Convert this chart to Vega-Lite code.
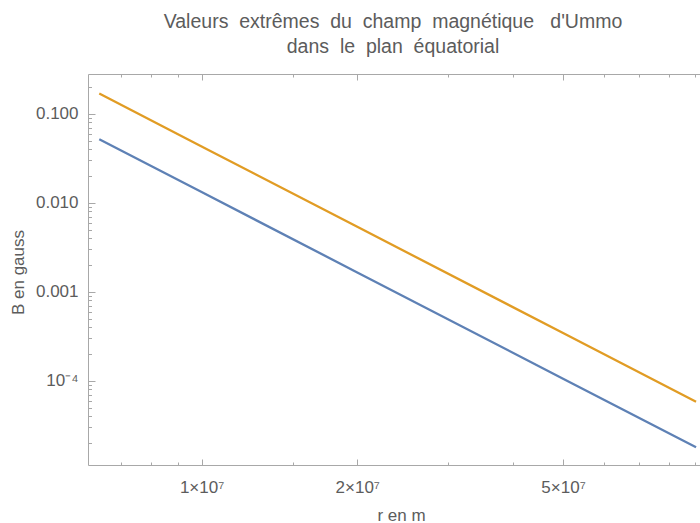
{
  "$schema": "https://vega.github.io/schema/vega-lite/v6.json",
  "width": 612,
  "height": 391,
  "autosize": "none",
  "padding": {"left": 88, "top": 74, "right": 0, "bottom": 58},
  "background": "white",
  "config": {
    "view": {"stroke": null},
    "axis": {
      "grid": false,
      "domainColor": "#a8a8a8",
      "tickColor": "#a8a8a8",
      "labelColor": "#5c5c5c",
      "titleColor": "#5c5c5c",
      "labelFont": "Liberation Sans",
      "titleFont": "Liberation Sans",
      "labelFontSize": 17,
      "titleFontSize": 17,
      "titleFontWeight": "normal",
      "labelFlush": false,
      "labelOverlap": false
    }
  },
  "title": {
    "text": ["Valeurs\u00a0\u00a0extrêmes\u00a0\u00a0du\u00a0\u00a0champ\u00a0\u00a0magnétique\u00a0\u00a0\u00a0d'Ummo\u00a0\u00a0\u00a0\u00a0\u00a0\u00a0", "dans\u00a0\u00a0le\u00a0\u00a0plan\u00a0\u00a0équatorial"],
    "font": "Liberation Sans",
    "fontSize": 19.5,
    "fontWeight": "normal",
    "color": "#5c5c5c",
    "anchor": "middle",
    "lineHeight": 25,
    "offset": 16,
    "dx": -1
  },
  "data": {
    "values": [
      {"r": 6340000, "B": 0.0518, "s": "min"},
      {"r": 10000000, "B": 0.0132, "s": "min"},
      {"r": 20000000, "B": 0.00165, "s": "min"},
      {"r": 50000000, "B": 0.0001056, "s": "min"},
      {"r": 90400000, "B": 0.00001787, "s": "min"},
      {"r": 6340000, "B": 0.1688, "s": "max"},
      {"r": 10000000, "B": 0.043, "s": "max"},
      {"r": 20000000, "B": 0.005375, "s": "max"},
      {"r": 50000000, "B": 0.000344, "s": "max"},
      {"r": 90400000, "B": 0.0000582, "s": "max"}
    ]
  },
  "layer": [
    {
      "mark": {"type": "line", "strokeWidth": 2.3, "clip": true},
      "encoding": {
        "x": {"field": "r", "type": "quantitative",
          "scale": {"type": "log", "domain": [6030000, 92000000], "nice": false},
          "axis": {"orient": "bottom", "values": [10000000, 20000000, 50000000], "ticks": false, "tickSize": 0,
            "labelBaseline": "alphabetic", "labelPadding": 27,
            "labelExpr": "format(datum.value/10000000, 'd') + '×10⁷'",
            "title": "r\u00a0en\u00a0m", "titleX": 313, "titleY": 55, "titleBaseline": "alphabetic", "titleAnchor": null}},
        "y": {"field": "B", "type": "quantitative",
          "scale": {"type": "log", "domain": [0.00001132, 0.28], "nice": false},
          "axis": {"orient": "left", "values": [0.1, 0.01, 0.001, 0.0001], "ticks": false, "tickSize": 0,
            "labelPadding": 10,
            "labelExpr": "datum.value >= 0.001 ? format(datum.value, '.3f') : '10⁻⁴'",
            "title": "B en gauss", "titleX": -70, "titleY": 198, "titleAngle": -90, "titleBaseline": "middle", "titleAlign": "center"}},
        "color": {"field": "s", "type": "nominal",
          "scale": {"domain": ["min", "max"], "range": ["#5E81B5", "#E19C24"]}, "legend": null}
      }
    },
    {
      "mark": {"type": "point", "opacity": 0},
      "encoding": {
        "x": {"field": "r", "type": "quantitative", "scale": {"type": "log", "domain": [6030000, 92000000], "nice": false},
          "axis": {"orient": "bottom", "values": [10000000, 20000000, 50000000], "tickSize": -6, "labels": false, "domain": false, "title": null}},
        "y": {"field": "B", "type": "quantitative", "scale": {"type": "log", "domain": [0.00001132, 0.28], "nice": false},
          "axis": {"orient": "left", "values": [0.1, 0.01, 0.001, 0.0001], "tickSize": -7, "labels": false, "domain": false, "title": null}}
      }
    },
    {
      "mark": {"type": "point", "opacity": 0},
      "encoding": {
        "x": {"field": "r", "type": "quantitative", "scale": {"type": "log", "domain": [6030000, 92000000], "nice": false},
          "axis": {"orient": "bottom", "values": [7000000, 8000000, 9000000, 15000000, 30000000, 40000000, 60000000, 70000000, 80000000, 90000000], "tickSize": -3, "labels": false, "domain": false, "title": null}},
        "y": {"field": "B", "type": "quantitative", "scale": {"type": "log", "domain": [0.00001132, 0.28], "nice": false},
          "axis": {"orient": "left", "values": [0.2, 0.09, 0.08, 0.07, 0.06, 0.05, 0.04, 0.03, 0.02, 0.009, 0.008, 0.007, 0.006, 0.005, 0.004, 0.003, 0.002, 0.0009, 0.0008, 0.0007, 0.0006, 0.0005, 0.0004, 0.0003, 0.0002, 0.00009, 0.00008, 0.00007, 0.00006, 0.00005, 0.00004, 0.00003, 0.00002], "tickSize": -3.5, "labels": false, "domain": false, "title": null}}
      }
    },
    {
      "mark": {"type": "point", "opacity": 0},
      "encoding": {
        "x": {"field": "r", "type": "quantitative", "scale": {"type": "log", "domain": [6030000, 92000000], "nice": false},
          "axis": {"orient": "top", "values": [10000000, 20000000, 50000000], "tickSize": -6, "labels": false, "domain": true, "title": null}},
        "y": {"field": "B", "type": "quantitative", "scale": {"type": "log", "domain": [0.00001132, 0.28], "nice": false}, "axis": null}
      }
    },
    {
      "mark": {"type": "point", "opacity": 0},
      "encoding": {
        "x": {"field": "r", "type": "quantitative", "scale": {"type": "log", "domain": [6030000, 92000000], "nice": false},
          "axis": {"orient": "top", "values": [7000000, 8000000, 9000000, 15000000, 30000000, 40000000, 60000000, 70000000, 80000000, 90000000], "tickSize": -3, "labels": false, "domain": false, "title": null}},
        "y": {"field": "B", "type": "quantitative", "scale": {"type": "log", "domain": [0.00001132, 0.28], "nice": false}, "axis": null}
      }
    }
  ],
  "resolve": {"axis": {"x": "independent", "y": "independent"}}
}
